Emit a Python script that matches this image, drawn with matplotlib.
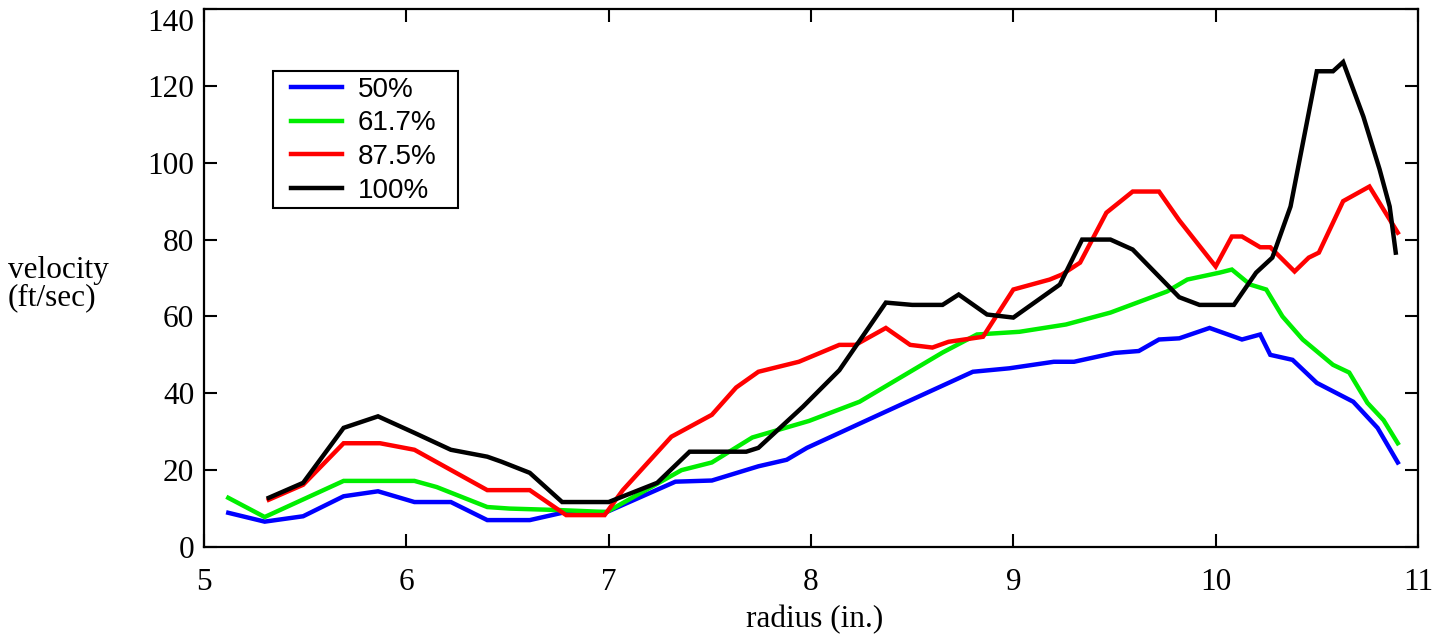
import matplotlib
matplotlib.use("Agg")
import matplotlib.pyplot as plt
from matplotlib.patches import Rectangle

# ---- data ----
x_50 = [5.12, 5.30, 5.49, 5.69, 5.86, 6.04, 6.22, 6.40, 6.61, 6.77, 6.99, 7.33, 7.51, 7.74,
        7.88, 7.98, 8.36, 8.80, 8.98, 9.20, 9.30, 9.50, 9.62, 9.72, 9.82, 9.97, 10.13, 10.22,
        10.27, 10.38, 10.50, 10.68, 10.80, 10.90]
y_50 = [8.9, 6.6, 8.0, 13.2, 14.5, 11.7, 11.7, 7.0, 7.0, 8.9, 9.1, 17.0, 17.3, 21.0,
        22.7, 25.8, 35.0, 45.6, 46.5, 48.2, 48.2, 50.5, 51.0, 54.0, 54.3, 57.0, 54.0, 55.3,
        50.0, 48.7, 42.7, 37.8, 31.0, 22.0]

x_617 = [5.12, 5.30, 5.69, 6.04, 6.15, 6.40, 6.51, 6.76, 6.99, 7.36, 7.51, 7.71, 7.99, 8.24,
         8.65, 8.82, 9.03, 9.26, 9.48, 9.76, 9.86, 10.02, 10.08, 10.17, 10.25, 10.33, 10.43,
         10.58, 10.66, 10.75, 10.83, 10.90]
y_617 = [12.8, 7.8, 17.2, 17.2, 15.6, 10.4, 10.0, 9.6, 9.1, 20.0, 22.0, 28.5, 32.8, 37.8,
         50.6, 55.3, 56.0, 57.9, 61.0, 66.5, 69.6, 71.4, 72.2, 68.3, 67.0, 60.0, 54.0,
         47.4, 45.4, 37.5, 33.0, 27.0]

x_875 = [5.32, 5.49, 5.69, 5.87, 6.04, 6.40, 6.61, 6.79, 6.98, 7.07, 7.31, 7.51, 7.63, 7.74,
         7.94, 8.14, 8.22, 8.37, 8.49, 8.60, 8.68, 8.85, 9.00, 9.18, 9.24, 9.33, 9.46, 9.59,
         9.72, 9.82, 10.00, 10.08, 10.13, 10.22, 10.27, 10.39, 10.46, 10.51, 10.63, 10.76,
         10.83, 10.90]
y_875 = [12.3, 16.2, 27.0, 27.0, 25.3, 14.8, 14.8, 8.3, 8.3, 14.8, 28.7, 34.4, 41.5, 45.6,
         48.2, 52.6, 52.6, 57.0, 52.6, 51.9, 53.4, 54.7, 67.0, 69.6, 70.9, 74.0, 87.0, 92.5,
         92.5, 85.0, 73.0, 80.8, 80.8, 78.0, 78.0, 71.7, 75.3, 76.6, 90.0, 93.8,
         87.8, 81.8]

x_100 = [5.32, 5.49, 5.69, 5.86, 6.04, 6.22, 6.40, 6.47, 6.61, 6.77, 7.00, 7.24, 7.40, 7.68,
         7.74, 7.96, 8.14, 8.37, 8.50, 8.65, 8.73, 8.87, 9.00, 9.23, 9.34, 9.48, 9.59, 9.82,
         9.92, 10.09, 10.20, 10.28, 10.37, 10.50, 10.58, 10.63, 10.73, 10.81, 10.86, 10.89]
y_100 = [12.8, 16.7, 31.0, 34.0, 29.7, 25.3, 23.5, 22.2, 19.3, 11.7, 11.7, 16.7, 24.8, 24.8,
         25.8, 36.5, 46.0, 63.6, 63.0, 63.0, 65.7, 60.5, 59.7, 68.3, 80.0, 80.0, 77.4, 65.0,
         63.0, 63.0, 71.4, 75.3, 88.6, 123.8, 123.8, 126.2, 112.0, 98.3, 88.6, 76.6]

series_labels = ["50%", "61.7%", "87.5%", "100%"]
series_colors = ["#0000ff", "#00ee00", "#ff0000", "#000000"]

x_ticks = [5, 6, 7, 8, 9, 10, 11]
y_ticks = [0, 20, 40, 60, 80, 100, 120, 140]

# ---- figure ----
W, H = 1448, 639
fig = plt.figure(figsize=(W / 100, H / 100), dpi=100)
ax = fig.add_axes([204 / W, 1 - 547 / H, (1418 - 204) / W, (547 - 9) / H])

serif = "Liberation Serif"
sans = "Liberation Sans"
fs = 22.5

for xs, ys, lab, col in zip([x_50, x_617, x_875, x_100], [y_50, y_617, y_875, y_100],
                            series_labels, series_colors):
    ax.plot(xs, ys, color=col, lw=3.2, label=lab, solid_joinstyle="miter")

ax.set_xlim(5, 11)
ax.set_ylim(0, 140)
ax.set_xticks(x_ticks)
ax.set_yticks(y_ticks)
ax.set_xticklabels([str(t) for t in x_ticks], fontfamily=serif, fontsize=fs)
ax.set_yticklabels([str(t) for t in y_ticks], fontfamily=serif, fontsize=fs)
ax.tick_params(direction="in", length=9.5, width=1.5, top=True, right=True)
ax.tick_params(axis="x", pad=15)
ax.tick_params(axis="y", pad=7)
ax.get_yticklabels()[-1].set_va("top")
for s in ax.spines.values():
    s.set_linewidth(1.6)

fig.text(815 / W, 1 - 620 / H, "radius (in.)", ha="center", va="center",
         fontfamily=serif, fontsize=fs)
fig.text(8 / W, 1 - 284 / H, "velocity\n(ft/sec)", ha="left", va="center",
         fontfamily=serif, fontsize=fs, linespacing=0.95)

leg = ax.legend(loc="upper left", bbox_to_anchor=((291 - 204) / 1214, (547 - 77) / 538),
                borderaxespad=0, borderpad=0, frameon=False,
                prop={"family": sans, "size": 20}, handlelength=1.85, handletextpad=0.55,
                labelspacing=0.27)
for ln in leg.get_lines():
    ln.set_linewidth(3.2)

frame = Rectangle((273 / W, 1 - 208 / H), (458 - 273) / W, (208 - 71) / H,
                  transform=fig.transFigure, fill=False, edgecolor="black", lw=1.5,
                  zorder=5)
fig.patches.append(frame)

fig.savefig("out.png", dpi=100)
